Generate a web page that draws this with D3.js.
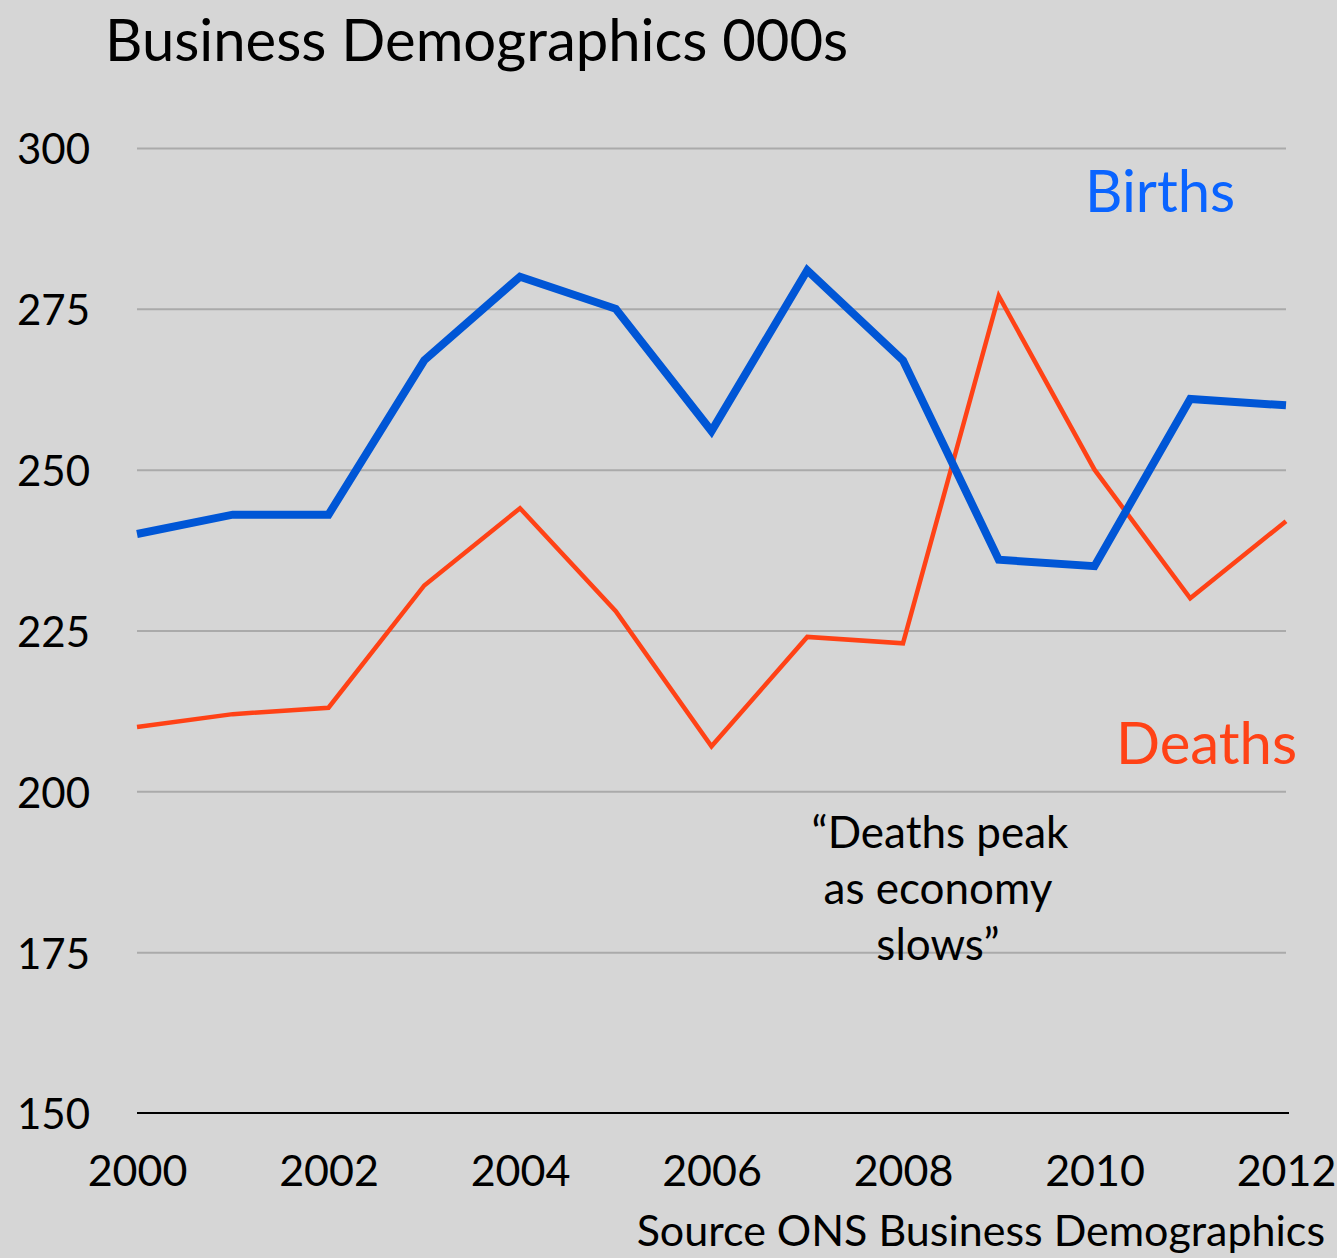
<!DOCTYPE html>
<html>
<head>
<meta charset="utf-8">
<script src="https://cdn.jsdelivr.net/npm/d3@7"></script>
<style>
  html, body { margin: 0; padding: 0; background: #d6d6d6; }
  svg { display: block; }
  text { font-family: Lato, "Open Sans", sans-serif; }
</style>
</head>
<body>
<svg id="chart" width="1337" height="1258"></svg>
<script>
// Business births and deaths, thousands
const years = [2000, 2001, 2002, 2003, 2004, 2005, 2006, 2007, 2008, 2009, 2010, 2011, 2012];
const births = [240, 243, 243, 267, 280, 275, 256, 281, 267, 236, 235, 261, 260];
const deaths = [210, 212, 213, 232, 244, 228, 207, 224, 223, 277, 250, 230, 242];
const yTicks = [150, 175, 200, 225, 250, 275, 300];
const xTicks = [2000, 2002, 2004, 2006, 2008, 2010, 2012];

const svg = d3.select("#chart");
const W = 1337, H = 1258;
svg.append("rect").attr("width", W).attr("height", H).attr("fill", "#d6d6d6");

const x = d3.scaleLinear().domain([2000, 2012]).range([137, 1286]);
const y = d3.scaleLinear().domain([150, 300]).range([1113, 148]);

// Horizontal gridlines
const grid = svg.append("g").attr("transform", `translate(${x(2000)},0)`)
  .call(d3.axisRight(y).tickValues(yTicks.filter(t => t > 150)).tickSize(x(2012) - x(2000)).tickFormat(""));
grid.select(".domain").remove();
grid.selectAll(".tick line").attr("stroke", "#aaaaaa").attr("stroke-width", 2);

// Baseline
svg.append("line")
  .attr("x1", x(2000)).attr("x2", x(2012) + 3)
  .attr("y1", y(150)).attr("y2", y(150))
  .attr("stroke", "#000").attr("stroke-width", 2);

// Y axis labels
const yAxis = svg.append("g").attr("transform", `translate(${x(2000)},0)`)
  .call(d3.axisLeft(y).tickValues(yTicks).tickSize(0).tickPadding(47));
yAxis.select(".domain").remove();
yAxis.selectAll("text")
  .attr("font-size", 42).attr("fill", "#000").attr("dy", "0.38em")
  .style("font-family", "Lato, sans-serif");

// X axis labels
const xAxis = svg.append("g").attr("transform", `translate(0,${y(150)})`)
  .call(d3.axisBottom(x).tickValues(xTicks).tickSize(0).tickFormat(d3.format("d")));
xAxis.select(".domain").remove();
xAxis.selectAll("text")
  .attr("font-size", 43).attr("fill", "#000").attr("y", 73).attr("dy", 0)
  .style("font-family", "Lato, sans-serif");

// Series lines
const line = d3.line().x((d, i) => x(years[i])).y(d => y(d));
svg.append("path").datum(deaths)
  .attr("d", line).attr("fill", "none")
  .attr("stroke", "#ff4216").attr("stroke-width", 4.5).attr("stroke-linejoin", "miter");
svg.append("path").datum(births)
  .attr("d", line).attr("fill", "none")
  .attr("stroke", "#0056d6").attr("stroke-width", 8).attr("stroke-linejoin", "miter");

// Title
svg.append("text").attr("x", 105).attr("y", 61)
  .attr("font-size", 58).attr("fill", "#000")
  .text("Business Demographics 000s");

// Series labels
svg.append("text").attr("x", 1085).attr("y", 212)
  .attr("font-size", 58).attr("fill", "#0a64ff").text("Births");
svg.append("text").attr("x", 1116).attr("y", 764)
  .attr("font-size", 58).attr("fill", "#ff4216").text("Deaths");

// Annotation
const note = ["\u201cDeaths peak", "as economy", "slows\u201d"];
svg.append("text").attr("text-anchor", "middle").attr("font-size", 44).attr("fill", "#000")
  .selectAll("tspan").data(note).join("tspan")
  .attr("x", (d, i) => i === 0 ? 940 : 938)
  .attr("y", (d, i) => 848 + i * 56)
  .text(d => d);

// Source
svg.append("text").attr("x", 1325).attr("y", 1246).attr("text-anchor", "end")
  .attr("font-size", 43).attr("fill", "#000")
  .text("Source ONS Business Demographics");
</script>
</body>
</html>
